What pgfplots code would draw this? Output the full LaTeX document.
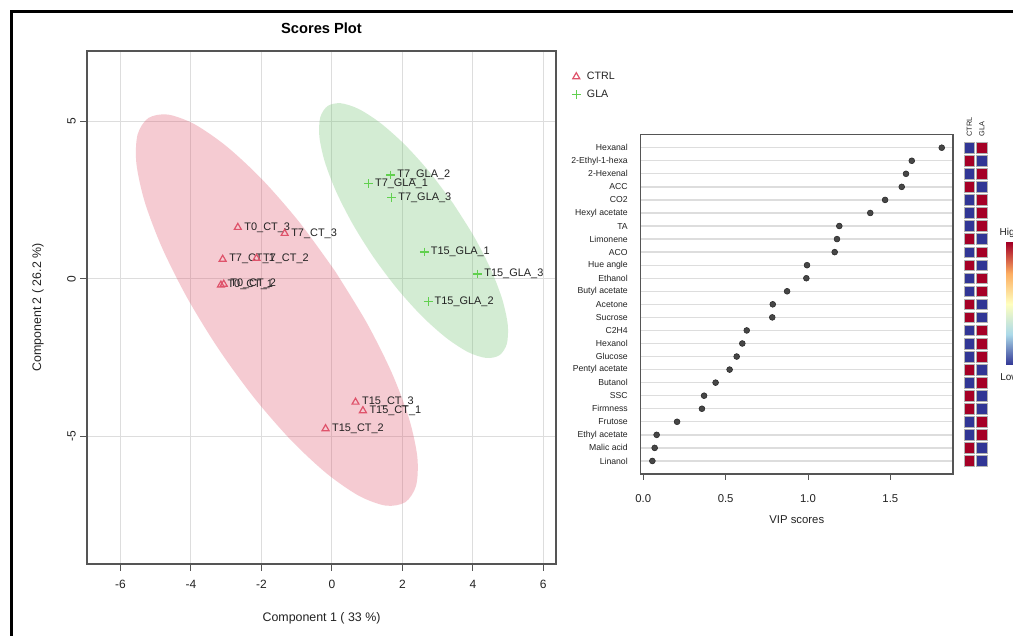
\documentclass[border=0pt]{standalone}
\usepackage{pgfplots}
\pgfplotsset{compat=1.18}
\usepackage{fontspec}
\setmainfont{Liberation Sans}
\definecolor{ctrl}{HTML}{DF536B}
\definecolor{gla}{HTML}{61D04F}
\definecolor{glafill}{RGB}{100,190,100}
\definecolor{hred}{HTML}{A50026}
\definecolor{hblue}{HTML}{313695}
\definecolor{boxgray}{HTML}{555555}
\definecolor{gridgray}{HTML}{DDDDDD}
\definecolor{txt}{HTML}{222222}
\begin{document}
\begin{tikzpicture}
\useasboundingbox (0,0) rectangle (759.75pt,476.25pt);
\clip (0,0) rectangle (759.75pt,476.25pt);
\fill[white] (0,0) rectangle (759.75pt,476.25pt);
\draw[line width=2.25pt] (8.25pt,-5pt) -- (8.25pt,467.25pt) -- (790pt,467.25pt);

% ---------------- Scores plot ----------------
\begin{axis}[
  at={(65.25pt,53.25pt)}, anchor=south west,
  scale only axis, width=351.75pt, height=384.75pt,
  xmin=-6.95, xmax=6.36, ymin=-9.04, ymax=7.22,
  xtick={-6,-4,-2,0,2,4,6}, ytick={-5,0,5},
  grid=major, major grid style={gridgray, line width=0.75pt},
  axis line style={boxgray, line width=0.9pt},
  tick style={boxgray, line width=0.75pt},
  tick align=outside, major tick length=5pt,
  xtick pos=bottom, ytick pos=left,
  /pgf/number format/assume math mode=true,
  tick label style={font=\fontsize{9}{10}\selectfont, text=txt},
  xticklabel style={yshift=-3.75pt},
  yticklabel style={rotate=90, anchor=south},
  title={\textbf{Scores Plot}},
  title style={font=\fontsize{11}{13}\selectfont, at={(0.5,1)}, anchor=center, yshift=11.25pt},
  xlabel={Component 1 ( 33 \%)},
  xlabel style={font=\fontsize{9.3}{11}\selectfont, text=txt, at={(axis description cs:0.5,0)}, anchor=center, yshift=-40.5pt},
  ylabel={Component 2 ( 26.2 \%)},
  ylabel style={font=\fontsize{9.3}{11}\selectfont, text=txt, at={(axis description cs:0,0.5)}, anchor=center, rotate=0},
  every axis y label/.append style={at={([xshift=-36.75pt]axis description cs:0,0.5)}},
  clip=false,
  legend style={draw=none, fill=none, at={(1,1)}, anchor=north west, xshift=8pt, yshift=-12.5pt,
    font=\fontsize{8}{9}\selectfont, row sep=4.5pt, nodes={inner sep=1pt, text=txt}},
  legend cell align=left,
  legend image code/.code={\path[draw=none,fill=none] (0pt,-2pt) rectangle (11pt,2pt); \draw[#1,only marks] plot coordinates {(4pt,0pt)};},
]
\addplot[fill=ctrl, fill opacity=0.3, draw=none, smooth, forget plot] coordinates {
(0.091,0.241) (-0.910,1.774) (-1.955,3.119) (-2.974,4.183) (-3.895,4.896) (-4.659,5.206)
(-5.211,5.094) (-5.515,4.568) (-5.549,3.662) (-5.312,2.439) (-4.819,0.983) (-4.104,-0.608)
(-3.216,-2.225) (-2.216,-3.758) (-1.171,-5.103) (-0.152,-6.167) (0.770,-6.880) (1.534,-7.190)
(2.086,-7.078) (2.390,-6.552) (2.424,-5.646) (2.187,-4.423) (1.694,-2.967) (0.979,-1.376) (0.091,0.241)};
\addplot[fill=glafill, fill opacity=0.28, draw=none, smooth, forget plot] coordinates {
(3.440,2.390) (2.771,3.383) (2.070,4.249) (1.386,4.929) (0.767,5.379) (0.252,5.564)
(-0.122,5.476) (-0.330,5.118) (-0.357,4.515) (-0.202,3.709) (0.124,2.755) (0.601,1.715)
(1.194,0.664) (1.863,-0.329) (2.564,-1.195) (3.248,-1.875) (3.867,-2.325) (4.382,-2.510)
(4.756,-2.422) (4.964,-2.064) (4.991,-1.461) (4.836,-0.655) (4.510,0.299) (4.033,1.339) (3.440,2.390)};
\addplot[only marks, mark=triangle, mark size=3pt, color=ctrl, mark options={line width=0.9pt},
  point meta=explicit symbolic, nodes near coords,
  nodes near coords style={anchor=west, inner sep=0pt, xshift=4.5pt, text=txt, font=\fontsize{8.2}{9}\selectfont}]
  coordinates {
  (-2.67,1.63) [T0\_CT\_3]
  (-1.34,1.44) [T7\_CT\_3]
  (-3.10,0.62) [T7\_CT\_1]
  (-2.14,0.65) [T7\_CT\_2]
  (-3.15,-0.20) [T0\_CT\_1]
  (-3.07,-0.17) [T0\_CT\_2]
  (0.67,-3.91) [T15\_CT\_3]
  (0.88,-4.18) [T15\_CT\_1]
  (-0.18,-4.75) [T15\_CT\_2]
  };
\addlegendentry{CTRL}
\addplot[only marks, mark=+, mark size=3.3pt, color=gla, mark options={line width=0.9pt},
  point meta=explicit symbolic, nodes near coords,
  nodes near coords style={anchor=west, inner sep=0pt, xshift=4.5pt, text=txt, font=\fontsize{8.2}{9}\selectfont}]
  coordinates {
  (1.67,3.29) [T7\_GLA\_2]
  (1.04,3.02) [T7\_GLA\_1]
  (1.70,2.58) [T7\_GLA\_3]
  (2.62,0.85) [T15\_GLA\_1]
  (4.14,0.15) [T15\_GLA\_3]
  (2.73,-0.73) [T15\_GLA\_2]
  };
\addlegendentry{GLA}
\end{axis}

% ---------------- VIP plot ----------------
\begin{axis}[
  at={(480.5pt,120.75pt)}, anchor=south west,
  scale only axis, width=234.2pt, height=254.5pt,
  xmin=-0.016, xmax=1.88, ymin=0, ymax=26,
  xtick={0,0.5,1,1.5}, xticklabels={0.0,0.5,1.0,1.5},
  ytick={1,...,25},
  yticklabels={Linanol,Malic acid,Ethyl acetate,Frutose,Firmness,SSC,Butanol,Pentyl acetate,Glucose,Hexanol,C2H4,Sucrose,Acetone,Butyl acetate,Ethanol,Hue angle,ACO,Limonene,TA,Hexyl acetate,CO2,ACC,2-Hexenal,2-Ethyl-1-hexa,Hexanal},
  ymajorgrids, major grid style={gridgray, line width=1pt},
  axis line style={boxgray, line width=0.9pt},
  xtick pos=bottom, ytick pos=left,
  tick align=outside,
  x tick style={boxgray, line width=0.75pt}, 
  y tick style={draw=none},
  major tick length=4.5pt,
  /pgf/number format/assume math mode=true,
  xticklabel style={font=\fontsize{8.5}{10}\selectfont, text=txt, yshift=-7.5pt},
  yticklabel style={font=\fontsize{6.5}{7.5}\selectfont, text=txt, anchor=east, inner sep=0pt, xshift=-5pt},
  xlabel={VIP scores},
  xlabel style={font=\fontsize{8.5}{10}\selectfont, text=txt, at={(axis description cs:0.5,0)}, anchor=center, yshift=-34.5pt},
]
\addplot[only marks, mark=*, mark size=2.2pt, mark options={fill=black!72, draw=black!85, line width=0.4pt}] coordinates {
(1.812,25) (1.630,24) (1.595,23) (1.569,22) (1.468,21) (1.378,20) (1.190,19) (1.176,18) (1.162,17)
(0.994,16) (0.990,15) (0.873,14) (0.786,13) (0.783,12) (0.628,11) (0.601,10) (0.567,9) (0.524,8)
(0.439,7) (0.369,6) (0.356,5) (0.205,4) (0.081,3) (0.069,2) (0.055,1)};
\end{axis}

% ---------------- heatmap ----------------
\begin{axis}[
  at={(722.25pt,120.75pt)}, anchor=south west,
  scale only axis, width=18.75pt, height=254.5pt,
  xmin=0.5, xmax=2.5, ymin=0, ymax=26,
  hide axis, clip=false,
]
\addplot[only marks, mark=square*, mark size=4.0pt, mark options={fill=hred, draw=gray!60, line width=0.4pt}] coordinates {
(1,24) (1,22) (1,18) (1,16) (1,13) (1,12) (1,8) (1,6) (1,5) (1,2) (1,1)
(2,25) (2,23) (2,21) (2,20) (2,19) (2,17) (2,15) (2,14) (2,11) (2,10) (2,9) (2,7) (2,4) (2,3)};
\addplot[only marks, mark=square*, mark size=4.0pt, mark options={fill=hblue, draw=gray!60, line width=0.4pt}] coordinates {
(1,25) (1,23) (1,21) (1,20) (1,19) (1,17) (1,15) (1,14) (1,11) (1,10) (1,9) (1,7) (1,4) (1,3)
(2,24) (2,22) (2,18) (2,16) (2,13) (2,12) (2,8) (2,6) (2,5) (2,2) (2,1)};
\node[rotate=90, anchor=west, inner sep=0pt, font=\fontsize{5.5}{6}\selectfont, text=txt] at (axis cs:1,25.85) {CTRL};
\node[rotate=90, anchor=west, inner sep=0pt, font=\fontsize{5.5}{6}\selectfont, text=txt] at (axis cs:2,25.85) {GLA};
\end{axis}

% colour key (partly cut by the picture edge)
\shade[bottom color=hblue, top color={rgb,255:red,255;green,255;blue,191}, middle color={rgb,255:red,171;green,217;blue,233}] (754.5pt,202.5pt) rectangle (770pt,248.25pt);
\shade[bottom color={rgb,255:red,255;green,255;blue,191}, top color=hred, middle color={rgb,255:red,253;green,174;blue,97}] (754.5pt,248.25pt) rectangle (770pt,294pt);
\node[anchor=west, inner sep=0pt, font=\fontsize{7.5}{8}\selectfont, text=txt] at (749.5pt,301.5pt) {High};
\node[anchor=west, inner sep=0pt, font=\fontsize{7.5}{8}\selectfont, text=txt] at (750pt,193.5pt) {Low};
\end{tikzpicture}
\end{document}
